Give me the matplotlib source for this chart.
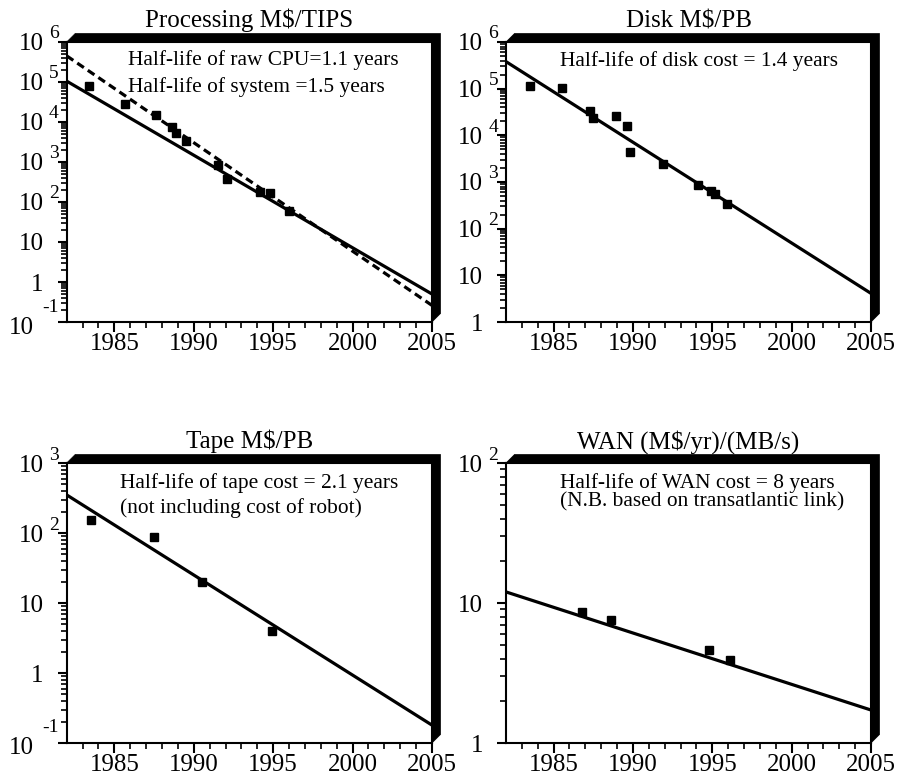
import matplotlib
matplotlib.use('Agg')
import matplotlib.pyplot as plt
import matplotlib.transforms as mtransforms
from matplotlib.patches import Polygon
from matplotlib.ticker import LogLocator, NullFormatter
import numpy as np

plt.rcParams['font.family'] = ['Liberation Serif', 'DejaVu Serif']

# --- donnees ---
fit_years = [1982, 2005]

# Processing M$/TIPS
cpu_years = [1983.4, 1985.7, 1987.6, 1988.6, 1988.9, 1989.5, 1991.5, 1992.1, 1994.2, 1994.8, 1996.0]
cpu_values = [8.0e4, 2.8e4, 1.5e4, 7.4e3, 5.3e3, 3.4e3, 860, 385, 182, 165, 61]
cpu_fit_system = [1.05e5, 0.5]
cpu_fit_raw = [4.5e5, 0.26]

# Disk M$/PB
disk_years = [1983.5, 1985.5, 1987.3, 1987.5, 1988.9, 1989.6, 1989.8, 1991.9, 1994.1, 1994.9, 1995.2, 1995.9]
disk_values = [1.16e5, 1.05e5, 3.4e4, 2.4e4, 2.6e4, 1.6e4, 4.5e3, 2.4e3, 870, 650, 550, 330]
disk_fit = [3.8e5, 4.1]

# Tape M$/PB
tape_years = [1983.5, 1987.5, 1990.5, 1994.9]
tape_values = [153, 89, 20, 4.0]
tape_fit = [350, 0.18]

# WAN (M$/yr)/(MB/s)
wan_years = [1986.8, 1988.6, 1994.8, 1996.1]
wan_values = [8.6, 7.6, 4.6, 3.9]
wan_fit = [12.0, 1.72]

W, H = 899, 775
fig = plt.figure(figsize=(W / 100, H / 100), dpi=100)


def panneau(box, titre, exps, notes):
    l, t, r, b = box
    ax = fig.add_axes([l / W, 1 - b / H, (r - l) / W, (b - t) / H])
    ax.set_yscale('log')
    ax.set_ylim(10.0 ** exps[0], 10.0 ** exps[-1])
    ax.set_xlim(1982, 2005)
    ax.set_xticks([1985, 1990, 1995, 2000, 2005])
    ax.set_xticks(range(1983, 2005), minor=True)
    ax.yaxis.set_major_locator(LogLocator(base=10, numticks=20))
    ax.yaxis.set_minor_locator(LogLocator(base=10, subs=np.arange(2, 10), numticks=100))
    ax.yaxis.set_major_formatter(NullFormatter())
    ax.yaxis.set_minor_formatter(NullFormatter())
    ax.tick_params(axis='x', which='major', direction='out', length=7, width=1.5,
                   labelsize=18, pad=1)
    ax.tick_params(axis='x', which='minor', direction='out', length=4, width=1.2)
    ax.tick_params(axis='y', which='major', direction='out', length=6.5, width=1.5)
    ax.tick_params(axis='y', which='minor', direction='out', length=4, width=1.2)
    for s in ax.spines.values():
        s.set_linewidth(1.5)
    ax.set_title(titre, fontsize=18, pad=10.5)

    # ombre epaisse en haut et a droite
    d = 8.5
    pts = [(l, t), (l + d, t - d), (r + d, t - d), (r + d, b - d), (r, b), (r, t)]
    ombre = Polygon([(x / W, 1 - y / H) for x, y in pts], closed=True,
                    fc='black', ec='black', lw=0.5, transform=fig.transFigure)
    fig.add_artist(ombre)

    # etiquettes de l'axe y (10 puis exposant)
    trans = ax.get_yaxis_transform()
    for e in exps:
        y = 10.0 ** e
        if e == 0 or e == 1:
            txt = mtransforms.offset_copy(trans, fig=fig, x=-23, y=0, units='dots')
            ax.text(0, y, '1' if e == 0 else '10', transform=txt, ha='right',
                    va='center_baseline', fontsize=18)
        elif e < 0:
            t10 = mtransforms.offset_copy(trans, fig=fig, x=-33, y=-3, units='dots')
            ax.text(0, y, '10', transform=t10, ha='right', va='center_baseline', fontsize=18)
            tex = mtransforms.offset_copy(trans, fig=fig, x=-8, y=17, units='dots')
            ax.text(0, y, str(e), transform=tex, ha='right', va='center_baseline', fontsize=14)
        else:
            t10 = mtransforms.offset_copy(trans, fig=fig, x=-23, y=0, units='dots')
            ax.text(0, y, '10', transform=t10, ha='right', va='center_baseline', fontsize=18)
            tex = mtransforms.offset_copy(trans, fig=fig, x=-8, y=10, units='dots')
            ax.text(0, y, str(e), transform=tex, ha='right', va='center_baseline', fontsize=14)

    for (xn, yn, s) in notes:
        ax.text(xn, yn, s, transform=ax.transAxes, ha='left', va='center', fontsize=15.4)
    return ax


ax1 = panneau((66.7, 42, 432, 322), 'Processing M$/TIPS', [-1, 0, 1, 2, 3, 4, 5, 6],
              [(0.168, 0.936, 'Half-life of raw CPU=1.1 years'),
               (0.168, 0.839, 'Half-life of system =1.5 years')])
ax1.plot(fit_years, cpu_fit_system, color='black', lw=2.3, solid_capstyle='butt')
ax1.plot(fit_years, cpu_fit_raw, color='black', lw=2.3, linestyle=(0, (2.5, 1.5)))
ax1.plot(cpu_years, cpu_values, 's', color='black', ms=5.5)

ax2 = panneau((506, 42, 871, 322), 'Disk M$/PB', [0, 1, 2, 3, 4, 5, 6],
              [(0.148, 0.932, 'Half-life of disk cost = 1.4 years')])
ax2.plot(fit_years, disk_fit, color='black', lw=2.3)
ax2.plot(disk_years, disk_values, 's', color='black', ms=5.5)

ax3 = panneau((66.7, 463, 432, 743), 'Tape M$/PB', [-1, 0, 1, 2, 3],
              [(0.146, 0.929, 'Half-life of tape cost = 2.1 years'),
               (0.146, 0.839, '(not including cost of robot)')])
ax3.plot(fit_years, tape_fit, color='black', lw=2.3)
ax3.plot(tape_years, tape_values, 's', color='black', ms=5.5)

ax4 = panneau((506, 463, 871, 743), 'WAN (M$/yr)/(MB/s)', [0, 1, 2],
              [(0.148, 0.929, 'Half-life of WAN cost = 8 years'),
               (0.148, 0.861, '(N.B. based on transatlantic link)')])
ax4.plot(fit_years, wan_fit, color='black', lw=2.3)
ax4.plot(wan_years, wan_values, 's', color='black', ms=5.5)

fig.savefig('out.png', dpi=100)
